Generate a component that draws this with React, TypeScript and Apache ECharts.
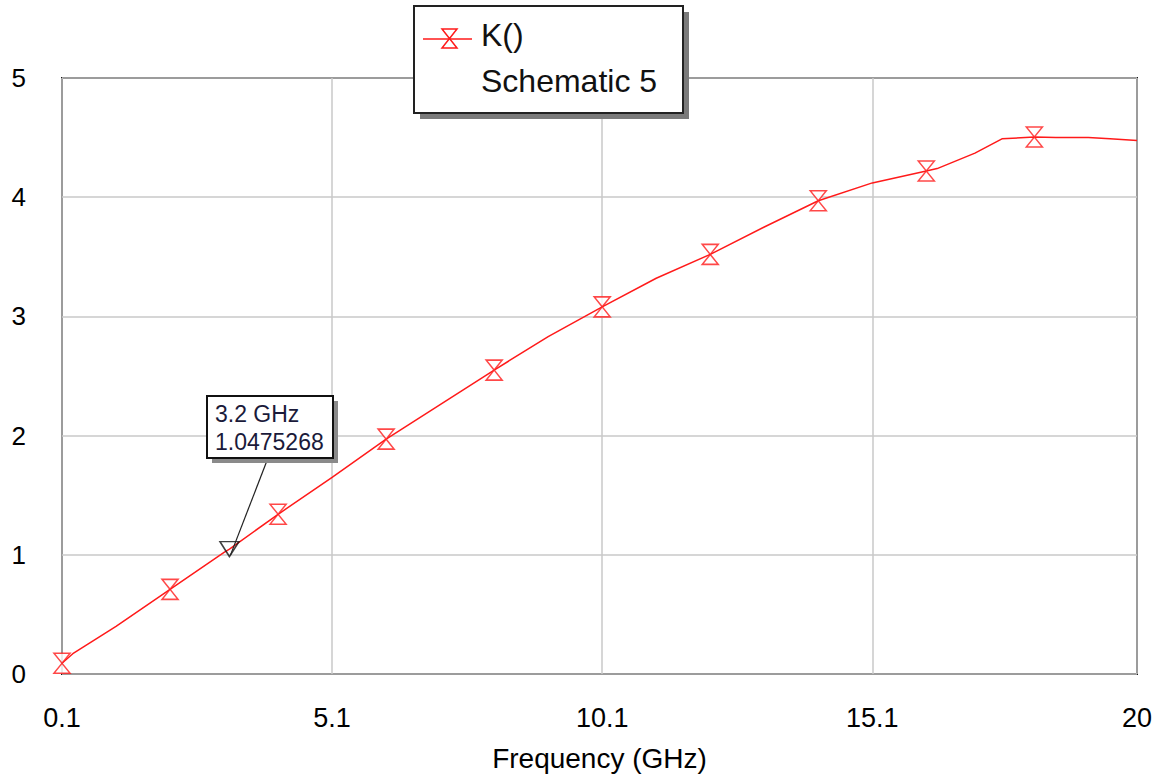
import React, { useEffect, useRef } from "react";
import * as echarts from "echarts";

// ---- data ----
const freqGHz = [0.1, 0.3, 1.1, 2.1, 3.1, 3.2, 4.1, 5.1, 6.1, 7.1, 8.1, 9.1, 10.1, 11.1, 12.1, 13.1, 14.1, 15.1, 16.1, 16.3, 17.0, 17.5, 18.1, 18.5, 19.1, 19.5, 20];
const kValues = [0.09, 0.17, 0.40, 0.71, 1.02, 1.0475, 1.34, 1.65, 1.97, 2.26, 2.55, 2.83, 3.08, 3.32, 3.52, 3.75, 3.97, 4.12, 4.22, 4.24, 4.37, 4.49, 4.505, 4.50, 4.50, 4.49, 4.475];
const markerFreqGHz = [0.1, 2.1, 4.1, 6.1, 8.1, 10.1, 12.1, 14.1, 16.1, 18.1];
const markerK = [0.09, 0.71, 1.34, 1.97, 2.55, 3.08, 3.52, 3.97, 4.22, 4.505];
const annotationFreq = 3.2;
const annotationK = 1.0475268;
const annotationLines = ["3.2 GHz", "1.0475268"];
const legendLines = ["K()", "Schematic 5"];
const xTitle = "Frequency (GHz)";
const X_MIN = 0.1;
const X_MAX = 20;
const Y_MIN = 0;
const Y_MAX = 5;

const FONT = "'Liberation Sans', Arial, sans-serif";
const RED = "#ff1a1a";
const HOURGLASS = "path://M0,0L16,0L8,10L16,20L0,20L8,10Z";

export default function App() {
  const ref = useRef<HTMLDivElement>(null);

  useEffect(() => {
    if (!ref.current) return;
    const chart = echarts.init(ref.current, undefined, { renderer: "svg" });
    const shift = (f: number) => +(f - X_MIN).toFixed(4);

    chart.setOption({
      animation: false,
      backgroundColor: "#ffffff",
      grid: {
        left: 62,
        right: 22,
        top: 78,
        bottom: 110,
        show: true,
        borderColor: "#1a1a1a",
        borderWidth: 2,
        backgroundColor: "transparent",
      },
      xAxis: {
        type: "value",
        min: 0,
        max: shift(X_MAX),
        interval: 5,
        axisLine: { show: false },
        axisTick: { show: false },
        splitLine: { show: true, lineStyle: { color: "#c8c8c8", width: 1.5 } },
        axisLabel: {
          formatter: (v: number) => String(Math.round((v + X_MIN) * 10) / 10),
          fontSize: 27,
          color: "#000",
          fontFamily: FONT,
          margin: 30,
        },
        name: xTitle,
        nameLocation: "middle",
        nameGap: 70,
        nameTextStyle: { fontSize: 28, color: "#000", fontFamily: FONT },
      },
      yAxis: {
        type: "value",
        min: Y_MIN,
        max: Y_MAX,
        interval: 1,
        axisLine: { show: false },
        axisTick: { show: false },
        splitLine: { show: true, lineStyle: { color: "#c8c8c8", width: 1.5 } },
        axisLabel: {
          fontSize: 26,
          color: "#000",
          fontFamily: FONT,
          margin: 36,
          padding: [6, 0, 0, 0],
        },
      },
      series: [
        {
          type: "line",
          data: freqGHz.map((f, i) => [shift(f), kValues[i]]),
          showSymbol: false,
          lineStyle: { color: RED, width: 1.5 },
          z: 3,
        },
        {
          type: "scatter",
          data: markerFreqGHz.map((f, i) => [shift(f), markerK[i]]),
          symbol: HOURGLASS,
          symbolSize: [16, 20],
          itemStyle: { color: "#ffffff", borderColor: RED, borderWidth: 1.5 },
          z: 4,
        },
        {
          type: "scatter",
          data: [[shift(annotationFreq), annotationK]],
          symbol: "triangle",
          symbolRotate: 180,
          symbolSize: [19, 15],
          itemStyle: { color: "transparent", borderColor: "#111", borderWidth: 1.5 },
          z: 5,
        },
      ],
    });

    const p = chart.convertToPixel({ gridIndex: 0 }, [shift(annotationFreq), annotationK]) as number[];
    const box = { x: 207, y: 396, w: 126, h: 62 };
    const leg = { x: 414, y: 6, w: 269, h: 107 };

    chart.setOption({
      graphic: [
        // annotation pointer
        {
          type: "line",
          z: 50,
          shape: { x1: 268, y1: box.y + box.h, x2: p[0] + 1, y2: p[1] + 6 },
          style: { stroke: "#222", lineWidth: 1.2 },
        },
        {
          type: "rect",
          z: 50,
          shape: { x: box.x + 5, y: box.y + 5, width: box.w, height: box.h },
          style: { fill: "#8a8a8a" },
        },
        {
          type: "rect",
          z: 51,
          shape: { x: box.x, y: box.y, width: box.w, height: box.h },
          style: { fill: "#ffffff", stroke: "#111", lineWidth: 2 },
        },
        {
          type: "text",
          z: 52,
          x: box.x + 8,
          y: box.y + 18,
          style: { text: annotationLines[0], font: `23px ${FONT}`, fill: "#1a1a3a", verticalAlign: "middle" },
        },
        {
          type: "text",
          z: 52,
          x: box.x + 8,
          y: box.y + 46,
          style: { text: annotationLines[1], font: `23px ${FONT}`, fill: "#1a1a3a", verticalAlign: "middle" },
        },
        // legend
        {
          type: "rect",
          z: 60,
          shape: { x: leg.x + 6, y: leg.y + 6, width: leg.w, height: leg.h },
          style: { fill: "#7a7a7a" },
        },
        {
          type: "rect",
          z: 61,
          shape: { x: leg.x, y: leg.y, width: leg.w, height: leg.h },
          style: { fill: "#ffffff", stroke: "#222", lineWidth: 2 },
        },
        {
          type: "line",
          z: 62,
          shape: { x1: 423, y1: 39, x2: 472, y2: 39 },
          style: { stroke: RED, lineWidth: 1.5 },
        },
        {
          type: "polygon",
          z: 63,
          shape: { points: [[442, 29], [457, 29], [449.5, 38.5], [457, 48], [442, 48], [449.5, 38.5]] },
          style: { fill: "#ffffff", stroke: RED, lineWidth: 1.5 },
        },
        {
          type: "text",
          z: 63,
          x: 481,
          y: 35,
          style: { text: legendLines[0], font: `32px ${FONT}`, fill: "#111", verticalAlign: "middle" },
        },
        {
          type: "text",
          z: 63,
          x: 481,
          y: 81,
          style: { text: legendLines[1], font: `32px ${FONT}`, fill: "#111", verticalAlign: "middle" },
        },
      ],
    });

    return () => chart.dispose();
  }, []);

  return (
    <div
      ref={ref}
      style={{ position: "absolute", left: 0, top: 0, width: 1159, height: 784, background: "#fff" }}
    />
  );
}
